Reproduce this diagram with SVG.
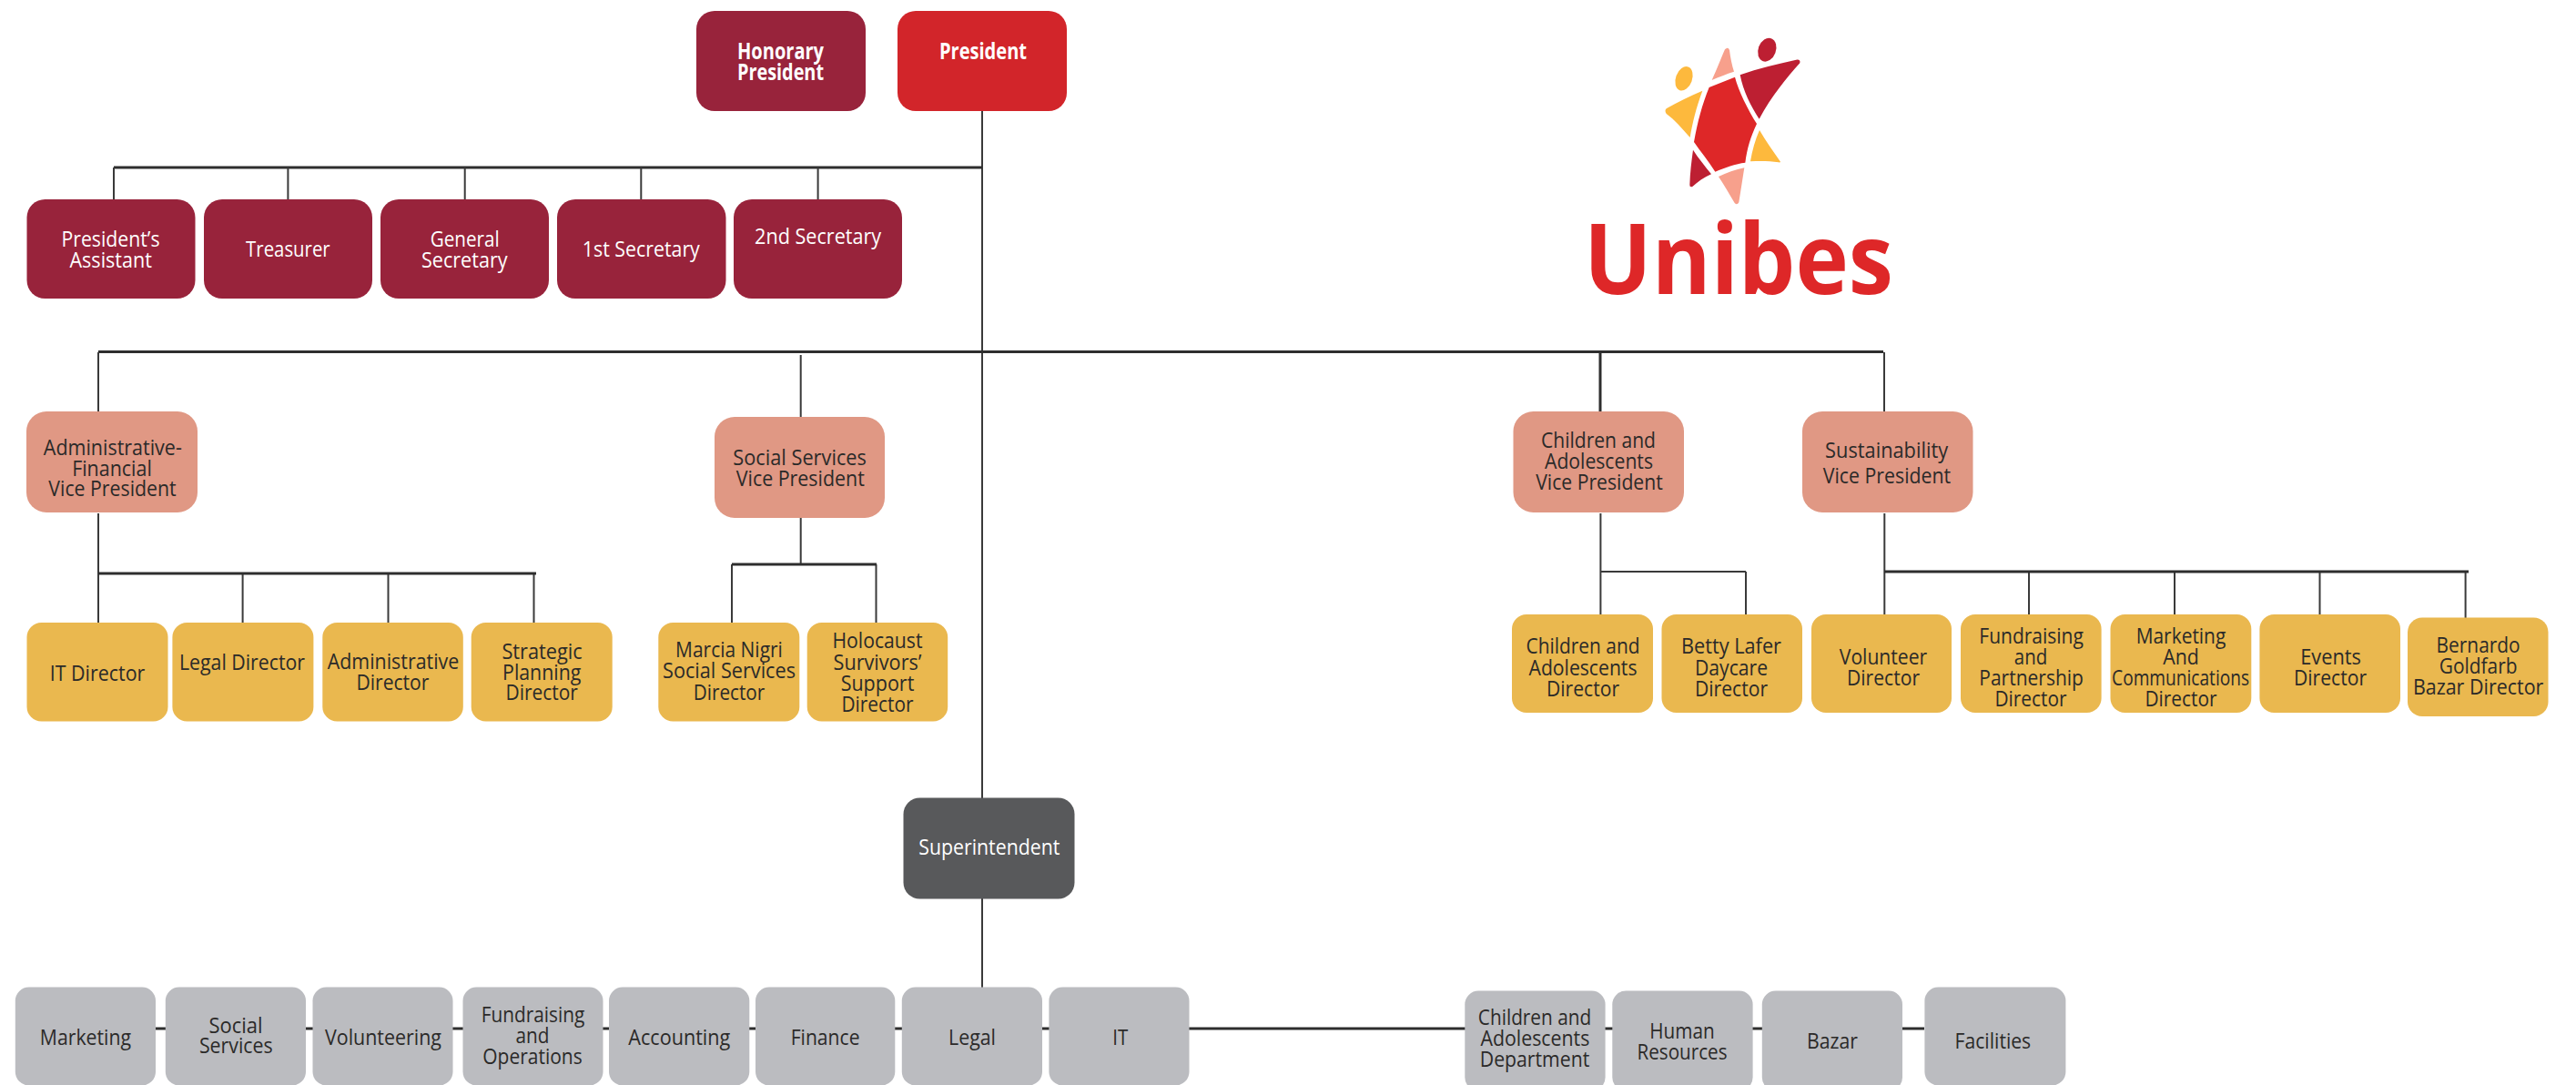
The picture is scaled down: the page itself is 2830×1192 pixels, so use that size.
<svg xmlns="http://www.w3.org/2000/svg" width="2830" height="1192" viewBox="0 0 2830 1192">
<style>
text{font-family:"Open Sans","Noto Sans","Liberation Sans",sans-serif;font-size:24.5px;text-anchor:middle;fill:#2b2a29}
.w text{fill:#fff}
.wb text{fill:#fff;font-weight:700}
.mar rect{fill:#98233b}
.red rect{fill:#d2252a}
.sal rect{fill:#e09884}
.yel rect{fill:#eab84f}
.dk rect{fill:#58595b}
.gr rect{fill:#bbbcc0}
.l{stroke:#3a3a3a;stroke-width:2;fill:none}
.t{stroke:#2e2e2e;stroke-width:3;fill:none}
</style>
<rect width="2830" height="1192" fill="#fff"/>
<g id="connectors">
<path class="l" d="M1079 122V877M1079 987V1085"/>
<path class="t" d="M125 184H1079"/>
<path class="l" d="M125 184V219M316.400 184V219M510.700 184V219M704.300 184V219M898.600 184V219"/>
<path class="t" d="M108 386.500H2069"/>
<path class="l" d="M108 387V452M879.700 390V458M2070 387V453"/>
<path class="t" d="M1758 387V453"/>
<path class="l" d="M108 564V684M266.600 630V684M426.500 630V684M586.500 630V684"/>
<path class="t" d="M108 630H589"/>
<path class="l" d="M879.700 569V620M804 620V684M962.500 620V684"/>
<path class="t" d="M804 620H963"/>
<path class="l" d="M1758.400 564V675M1758 628H1918M1918 628V675"/>
<path class="l" d="M2070.300 564V675M2229 628V675M2389 628V675M2548.500 628V675M2708.600 628V679"/>
<path class="t" d="M2070 628H2712"/>
<path class="t" d="M171 1130H2114"/>
</g>
<g id="n-honorary" class="mar wb"><rect x="765" y="12" width="186" height="110" rx="20"/><text x="857.500" y="65" textLength="95" lengthAdjust="spacingAndGlyphs">Honorary</text><text x="857.500" y="87.700" textLength="95" lengthAdjust="spacingAndGlyphs">President</text></g>
<g id="n-president" class="red wb"><rect x="986" y="12" width="186" height="110" rx="20"/><text x="1080" y="65" textLength="96" lengthAdjust="spacingAndGlyphs">President</text></g>
<g id="n-assistant" class="mar w"><rect x="29.500" y="219" width="185" height="109" rx="20"/><text x="121.500" y="270.700" textLength="108" lengthAdjust="spacingAndGlyphs">President’s</text><text x="121.700" y="294" textLength="90.500" lengthAdjust="spacingAndGlyphs">Assistant</text></g>
<g id="n-treasurer" class="mar w"><rect x="224" y="219" width="185" height="109" rx="20"/><text x="316.400" y="282.300" textLength="92.600" lengthAdjust="spacingAndGlyphs">Treasurer</text></g>
<g id="n-general" class="mar w"><rect x="418" y="219" width="185" height="109" rx="20"/><text x="510.700" y="270.700" textLength="76" lengthAdjust="spacingAndGlyphs">General</text><text x="510.300" y="294" textLength="94.700" lengthAdjust="spacingAndGlyphs">Secretary</text></g>
<g id="n-first" class="mar w"><rect x="612" y="219" width="185.500" height="109" rx="20"/><text x="704.300" y="282.300" textLength="129" lengthAdjust="spacingAndGlyphs">1st Secretary</text></g>
<g id="n-second" class="mar w"><rect x="806" y="219" width="185" height="109" rx="20"/><text x="898.600" y="268.300" textLength="139" lengthAdjust="spacingAndGlyphs">2nd Secretary</text></g>
<g id="logo">
<g transform="translate(1680 20) scale(.33333)">
<path fill="#de2728" d="M593 228L678 194C690 240 720 300 750 348C730 390 718 430 712 476C680 480 645 492 613 506C590 470 565 440 543 408C555 340 570 285 593 228Z"/>
<path fill="#bd1f32" d="M695 187C755 165 820 150 880 137Q895 135 892 148C850 195 800 255 758 332C730 290 705 240 695 187Z"/>
<path fill="#f7a08c" d="M602 204C620 165 635 125 645 103Q655 92 660 105C663 130 668 155 675 176C650 184 625 194 602 204Z"/>
<path fill="#fdb93d" d="M571 239C550 295 538 345 530 393C505 365 480 335 452 315Q445 305 452 298C490 275 530 257 571 239Z"/>
<ellipse cx="510" cy="199" rx="27" ry="41" transform="rotate(20 510 199)" fill="#fdb93d"/>
<ellipse cx="784" cy="104" rx="29" ry="40" transform="rotate(20 784 104)" fill="#bd1f32"/>
<path fill="#fdb93d" d="M759 369C780 405 805 440 828 473Q828 476 822 475C790 470 760 470 729 472C735 435 745 400 759 369Z"/>
<path fill="#bd1f32" d="M540 434C558 462 580 488 600 514C575 525 555 540 538 555Q528 558 529 548C530 510 535 470 540 434Z"/>
<path fill="#f7a08c" d="M624 522C650 510 680 498 709 493C703 530 697 570 691 607Q685 618 677 609C660 580 642 550 624 522Z"/>
</g>
<text x="1910" y="323" textLength="340" lengthAdjust="spacingAndGlyphs" style="font-size:108px;font-weight:700;fill:#de2728">Unibes</text>
</g>
<g id="n-vp-admin" class="sal"><rect x="29" y="452" width="188" height="111" rx="22"/><text x="123.800" y="500" textLength="152" lengthAdjust="spacingAndGlyphs">Administrative-</text><text x="123" y="522.700" textLength="87.700" lengthAdjust="spacingAndGlyphs">Financial</text><text x="123.500" y="545" textLength="140.300" lengthAdjust="spacingAndGlyphs">Vice President</text></g>
<g id="n-vp-social" class="sal"><rect x="785" y="458" width="187" height="111" rx="22"/><text x="878.600" y="511" textLength="146.600" lengthAdjust="spacingAndGlyphs">Social Services</text><text x="879.300" y="534" textLength="141" lengthAdjust="spacingAndGlyphs">Vice President</text></g>
<g id="n-vp-children" class="sal"><rect x="1662.500" y="452" width="187.500" height="111" rx="22"/><text x="1756" y="491.700" textLength="126" lengthAdjust="spacingAndGlyphs">Children and</text><text x="1756.500" y="515" textLength="119" lengthAdjust="spacingAndGlyphs">Adolescents</text><text x="1757" y="537.700" textLength="139.600" lengthAdjust="spacingAndGlyphs">Vice President</text></g>
<g id="n-vp-sust" class="sal"><rect x="1980" y="452" width="187.500" height="111" rx="22"/><text x="2072.600" y="503.300" textLength="135" lengthAdjust="spacingAndGlyphs">Sustainability</text><text x="2073" y="531" textLength="140.400" lengthAdjust="spacingAndGlyphs">Vice President</text></g>
<g id="n-d-it" class="yel"><rect x="29.500" y="684" width="155" height="108.500" rx="16"/><text x="107" y="748" textLength="104.500" lengthAdjust="spacingAndGlyphs">IT Director</text></g>
<g id="n-d-legal" class="yel"><rect x="189.400" y="684" width="155" height="108.500" rx="16"/><text x="266" y="735.700" textLength="138" lengthAdjust="spacingAndGlyphs">Legal Director</text></g>
<g id="n-d-admin" class="yel"><rect x="354.300" y="684" width="154.500" height="108.500" rx="16"/><text x="432" y="735" textLength="144.500" lengthAdjust="spacingAndGlyphs">Administrative</text><text x="431.400" y="758" textLength="80" lengthAdjust="spacingAndGlyphs">Director</text></g>
<g id="n-d-strategic" class="yel"><rect x="517.700" y="684" width="155" height="108.500" rx="16"/><text x="595.600" y="724" textLength="88.400" lengthAdjust="spacingAndGlyphs">Strategic</text><text x="595.200" y="746.700" textLength="86.300" lengthAdjust="spacingAndGlyphs">Planning</text><text x="595.200" y="769" textLength="79.300" lengthAdjust="spacingAndGlyphs">Director</text></g>
<g id="n-d-marcia" class="yel"><rect x="723.300" y="684" width="155" height="108.500" rx="16"/><text x="801" y="722.300" textLength="117.800" lengthAdjust="spacingAndGlyphs">Marcia Nigri</text><text x="801" y="745.300" textLength="146" lengthAdjust="spacingAndGlyphs">Social Services</text><text x="801" y="769" textLength="78.600" lengthAdjust="spacingAndGlyphs">Director</text></g>
<g id="n-d-holocaust" class="yel"><rect x="886.700" y="684" width="154.500" height="108.500" rx="16"/><text x="964" y="712.300" textLength="99" lengthAdjust="spacingAndGlyphs">Holocaust</text><text x="964" y="735.700" textLength="97" lengthAdjust="spacingAndGlyphs">Survivors’</text><text x="964" y="759" textLength="80.700" lengthAdjust="spacingAndGlyphs">Support</text><text x="964" y="781.700" textLength="79" lengthAdjust="spacingAndGlyphs">Director</text></g>
<g id="n-d-children" class="yel"><rect x="1661" y="675" width="155" height="108" rx="16"/><text x="1739" y="718.300" textLength="125" lengthAdjust="spacingAndGlyphs">Children and</text><text x="1739" y="741.700" textLength="119" lengthAdjust="spacingAndGlyphs">Adolescents</text><text x="1739" y="765" textLength="80" lengthAdjust="spacingAndGlyphs">Director</text></g>
<g id="n-d-betty" class="yel"><rect x="1825.500" y="675" width="154.500" height="108" rx="16"/><text x="1902" y="718.300" textLength="110" lengthAdjust="spacingAndGlyphs">Betty Lafer</text><text x="1902" y="741.700" textLength="80" lengthAdjust="spacingAndGlyphs">Daycare</text><text x="1902" y="765" textLength="80" lengthAdjust="spacingAndGlyphs">Director</text></g>
<g id="n-d-volunteer" class="yel"><rect x="1990" y="675" width="154" height="108" rx="16"/><text x="2069" y="730" textLength="96.400" lengthAdjust="spacingAndGlyphs">Volunteer</text><text x="2069" y="752.700" textLength="80" lengthAdjust="spacingAndGlyphs">Director</text></g>
<g id="n-d-fundraising" class="yel"><rect x="2154" y="675" width="154.600" height="108" rx="16"/><text x="2231.600" y="707.300" textLength="114.600" lengthAdjust="spacingAndGlyphs">Fundraising</text><text x="2231" y="730" textLength="36.400" lengthAdjust="spacingAndGlyphs">and</text><text x="2231.600" y="752.700" textLength="114.600" lengthAdjust="spacingAndGlyphs">Partnership</text><text x="2231" y="775.700" textLength="79" lengthAdjust="spacingAndGlyphs">Director</text></g>
<g id="n-d-marketing" class="yel"><rect x="2318.500" y="675" width="154.800" height="108" rx="16"/><text x="2396" y="707.300" textLength="98.600" lengthAdjust="spacingAndGlyphs">Marketing</text><text x="2396" y="730" textLength="39.500" lengthAdjust="spacingAndGlyphs">And</text><text x="2395.600" y="752.700" textLength="151" lengthAdjust="spacingAndGlyphs">Communications</text><text x="2396" y="775.700" textLength="79" lengthAdjust="spacingAndGlyphs">Director</text></g>
<g id="n-d-events" class="yel"><rect x="2482.400" y="675" width="154.600" height="108" rx="16"/><text x="2560.600" y="730" textLength="66.800" lengthAdjust="spacingAndGlyphs">Events</text><text x="2560" y="752.700" textLength="80" lengthAdjust="spacingAndGlyphs">Director</text></g>
<g id="n-d-bazar" class="yel"><rect x="2645" y="678.500" width="154.500" height="108.500" rx="16"/><text x="2722.600" y="717.300" textLength="92" lengthAdjust="spacingAndGlyphs">Bernardo</text><text x="2722.600" y="740" textLength="85.800" lengthAdjust="spacingAndGlyphs">Goldfarb</text><text x="2722.600" y="763.300" textLength="143.400" lengthAdjust="spacingAndGlyphs">Bazar Director</text></g>
<g id="n-super" class="dk w"><rect x="992.500" y="876.500" width="188" height="111" rx="18"/><text x="1086.800" y="939" textLength="155" lengthAdjust="spacingAndGlyphs">Superintendent</text></g>
<g id="n-marketing" class="gr"><rect x="16.800" y="1084.500" width="154.200" height="108" rx="15"/><text x="93.900" y="1148" textLength="100.200" lengthAdjust="spacingAndGlyphs">Marketing</text></g>
<g id="n-social" class="gr"><rect x="181.800" y="1084.500" width="154.200" height="108" rx="15"/><text x="259" y="1135" textLength="59" lengthAdjust="spacingAndGlyphs">Social</text><text x="259.300" y="1157.300" textLength="80.800" lengthAdjust="spacingAndGlyphs">Services</text></g>
<g id="n-volunteering" class="gr"><rect x="343.500" y="1084.500" width="154" height="108" rx="15"/><text x="421" y="1148" textLength="128" lengthAdjust="spacingAndGlyphs">Volunteering</text></g>
<g id="n-fundraising" class="gr"><rect x="508.500" y="1084.500" width="154" height="108" rx="15"/><text x="585.500" y="1123.300" textLength="113.600" lengthAdjust="spacingAndGlyphs">Fundraising</text><text x="585" y="1146" textLength="37" lengthAdjust="spacingAndGlyphs">and</text><text x="585" y="1169" textLength="109.400" lengthAdjust="spacingAndGlyphs">Operations</text></g>
<g id="n-accounting" class="gr"><rect x="669" y="1084.500" width="154.300" height="108" rx="15"/><text x="746.300" y="1148" textLength="112" lengthAdjust="spacingAndGlyphs">Accounting</text></g>
<g id="n-finance" class="gr"><rect x="830" y="1084.500" width="153.300" height="108" rx="15"/><text x="906.600" y="1148" textLength="75.800" lengthAdjust="spacingAndGlyphs">Finance</text></g>
<g id="n-legal" class="gr"><rect x="990.800" y="1084.500" width="154.200" height="108" rx="15"/><text x="1068" y="1148" textLength="52" lengthAdjust="spacingAndGlyphs">Legal</text></g>
<g id="n-it" class="gr"><rect x="1152.400" y="1084.500" width="154.100" height="108" rx="15"/><text x="1230.700" y="1148" textLength="17" lengthAdjust="spacingAndGlyphs">IT</text></g>
<g id="n-children" class="gr"><rect x="1609.300" y="1088.500" width="154.300" height="110" rx="15"/><text x="1686" y="1126" textLength="124.400" lengthAdjust="spacingAndGlyphs">Children and</text><text x="1686.400" y="1149" textLength="120" lengthAdjust="spacingAndGlyphs">Adolescents</text><text x="1686" y="1172.300" textLength="120.500" lengthAdjust="spacingAndGlyphs">Department</text></g>
<g id="n-hr" class="gr"><rect x="1771.300" y="1088.500" width="154.300" height="110" rx="15"/><text x="1848" y="1141" textLength="71.400" lengthAdjust="spacingAndGlyphs">Human</text><text x="1848" y="1163.700" textLength="99" lengthAdjust="spacingAndGlyphs">Resources</text></g>
<g id="n-bazar" class="gr"><rect x="1935.800" y="1088.500" width="154.200" height="110" rx="15"/><text x="2013" y="1152" textLength="56" lengthAdjust="spacingAndGlyphs">Bazar</text></g>
<g id="n-facilities" class="gr"><rect x="2114.400" y="1084.500" width="155" height="108" rx="15"/><text x="2189.400" y="1152" textLength="83.600" lengthAdjust="spacingAndGlyphs">Facilities</text></g>
</svg>
